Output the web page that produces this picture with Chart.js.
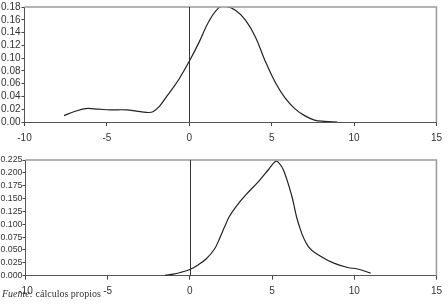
<!DOCTYPE html>
<html>
<head>
<meta charset="utf-8">
<script src="https://cdn.jsdelivr.net/npm/chart.js@4/dist/chart.umd.min.js"></script>
<style>
  html, body { margin: 0; padding: 0; background: #fff; }
  body { width: 448px; height: 306px; position: relative; overflow: hidden; }
  .wrap { position: absolute; left: 0; width: 448px; }
  #w1 { top: 0; height: 150px; }
  #w2 { top: 150px; height: 156px; }
  #note { position: absolute; left: 2px; top: 288px; font-family: "Liberation Serif", "Times New Roman", serif; font-size: 10px; color: #333; white-space: nowrap; }
</style>
</head>
<body>
<div class="wrap" id="w1"><canvas id="c1"></canvas></div>
<div class="wrap" id="w2"><canvas id="c2"></canvas></div>
<div id="note"><i>Fuente:</i> cálculos propios</div>
<script>
// Top density
const topX = [-7.6, -7.0, -6.3, -5.5, -4.8, -3.8, -3.2, -2.6, -2.2, -1.8, -1.4, -1.0, -0.6, 0.0, 0.6, 1.2, 1.8, 2.2, 2.8, 3.4, 4.0, 4.6, 5.2, 5.8, 6.4, 7.0, 7.6, 8.2, 9.0];
const topY = [0.010, 0.016, 0.021, 0.020, 0.019, 0.019, 0.017, 0.015, 0.016, 0.025, 0.039, 0.053, 0.068, 0.095, 0.125, 0.158, 0.179, 0.181, 0.175, 0.160, 0.134, 0.096, 0.063, 0.038, 0.021, 0.010, 0.003, 0.001, 0.000];
// Bottom density
const botX = [-1.5, -1.0, -0.5, 0.0, 0.5, 1.0, 1.5, 1.8, 2.1, 2.4, 2.8, 3.4, 4.2, 4.8, 5.2, 5.4, 5.7, 6.2, 6.6, 7.2, 8.0, 8.8, 9.6, 10.2, 11.0];
const botY = [0.001, 0.003, 0.007, 0.012, 0.021, 0.033, 0.052, 0.072, 0.094, 0.115, 0.134, 0.157, 0.184, 0.207, 0.222, 0.220, 0.205, 0.155, 0.102, 0.057, 0.037, 0.024, 0.016, 0.013, 0.005];
// Tick settings
const xTicks = [-10, -5, 0, 5, 10, 15];
const topYMax = 0.18, topYStep = 0.02, topDecimals = 2;
const botYMax = 0.225, botYStep = 0.025, botDecimals = 3;

const frame = {
  id: 'frame',
  afterDatasetsDraw(chart) {
    const { ctx, chartArea: a, scales } = chart;
    ctx.save();
    ctx.strokeStyle = '#9a9a9a';
    ctx.lineWidth = 1.5;
    ctx.beginPath();
    ctx.moveTo(a.left, a.top);
    ctx.lineTo(a.right, a.top);
    ctx.lineTo(a.right, a.bottom);
    ctx.stroke();
    const x0 = Math.round(scales.x.getPixelForValue(0)) + 0.5;
    ctx.strokeStyle = '#333';
    ctx.lineWidth = 1;
    ctx.beginPath();
    ctx.moveTo(x0, a.top);
    ctx.lineTo(x0, a.bottom);
    ctx.stroke();
    ctx.restore();
  }
};

function makeChart(id, xs, ys, ymax, ystep, dec, pad, yW, xH, yFont, yPad) {
  const pts = xs.map((x, i) => ({ x: x, y: ys[i] }));
  return new Chart(document.getElementById(id), {
    type: 'line',
    data: { datasets: [{ data: pts, borderColor: '#222', borderWidth: 1.2, pointRadius: 0, tension: 0.4, fill: false }] },
    options: {
      responsive: true, maintainAspectRatio: false, animation: false,
      layout: { padding: pad },
      plugins: { legend: { display: false }, tooltip: { enabled: false } },
      scales: {
        x: {
          type: 'linear', min: -10, max: 15,
          afterBuildTicks: s => { s.ticks = xTicks.map(v => ({ value: v })); },
          afterFit: s => { s.height = xH; },
          grid: { display: true, drawOnChartArea: false, drawTicks: true, tickLength: 4, color: '#444' },
          border: { display: true, color: '#555', width: 1 },
          ticks: { autoSkip: false, padding: 6, color: '#333', font: { family: 'Liberation Sans, Arial, sans-serif', size: 10 }, maxRotation: 0 }
        },
        y: {
          min: 0, max: ymax,
          afterBuildTicks: s => { const t = []; for (let v = 0; v <= ymax + 1e-9; v += ystep) t.push({ value: +v.toFixed(4) }); s.ticks = t; },
          afterFit: s => { s.width = yW; },
          grid: { display: true, drawOnChartArea: false, drawTicks: true, tickLength: 3, color: '#444' },
          border: { display: true, color: '#555', width: 1 },
          ticks: { autoSkip: false, padding: yPad, color: '#333', font: { family: 'Liberation Sans, Arial, sans-serif', size: yFont }, callback: v => v.toFixed(dec) }
        }
      }
    },
    plugins: [frame]
  });
}

makeChart('c1', topX, topY, topYMax, topYStep, topDecimals, { top: 6, right: 9, left: 0, bottom: 0 }, 24.5, 28, 10, 1);
makeChart('c2', botX, botY, botYMax, botYStep, botDecimals, { top: 10, right: 9, left: 0, bottom: 0 }, 25.5, 30.3, 8.8, 0);
</script>
</body>
</html>
